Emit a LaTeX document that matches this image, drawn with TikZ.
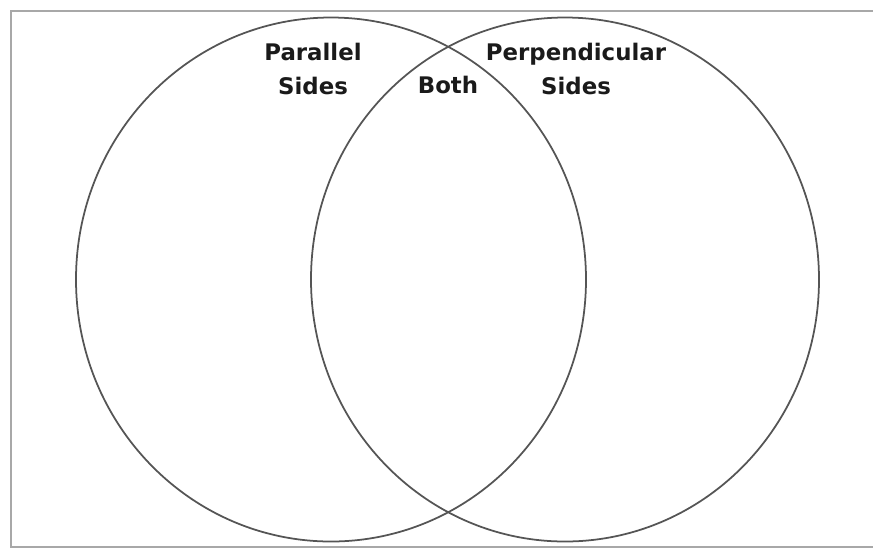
\documentclass[tikz,border=0pt]{standalone}
\usepackage{fontspec}
\setmainfont{DejaVu Sans}
\usepackage{tikz}
\usetikzlibrary{positioning}
\definecolor{cmarco}{HTML}{A8A8A8}
\definecolor{ccirc}{HTML}{555555}
\definecolor{ctexto}{HTML}{1A1A1A}
\tikzset{
  marco/.style={draw=cmarco, line width=1.2pt},
  circulo/.style={draw=ccirc, line width=1pt},
  etiqueta/.style={font=\fontsize{13}{19}\selectfont\bfseries, text=ctexto, align=center, inner sep=0pt},
}
\begin{document}
\begin{tikzpicture}[x=0.02cm, y=-0.02cm]
  \useasboundingbox (0,0) rectangle (873,549);
  \draw[marco] (880,11) -- (11,11) -- (11,547) -- (880,547);
  % the two sets
  \draw[circulo] (331,279.5) ellipse [x radius=255, y radius=262];
  \draw[circulo] (565,279.5) ellipse [x radius=254, y radius=262];
  \node[etiqueta] (paral) at (313,69) {Parallel\\Sides};
  \node[etiqueta] (perp) at (576,69) {Perpendicular\\Sides};
  \node[etiqueta] (ambos) at (448,85) {Both};
\end{tikzpicture}
\end{document}
